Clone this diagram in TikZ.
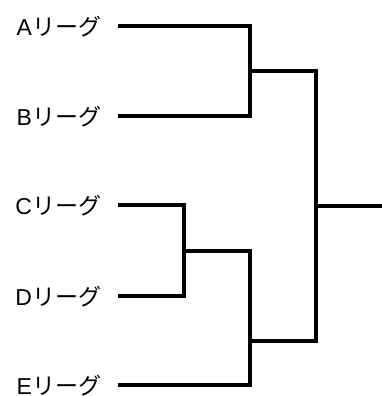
\documentclass[tikz,border=0pt]{standalone}
\usepackage{fontspec}
\setmainfont{Liberation Sans}
\newfontfamily\jp{Noto Sans CJK JP}
\newcommand{\leaguename}[1]{#1{\jp リーグ}}
\begin{document}
\begin{tikzpicture}[x=1pt,y=-1pt,
  league/.style={anchor=east,inner sep=0pt,outer xsep=17pt,text height=19pt,text depth=0pt,font=\fontsize{23}{27}\selectfont},
  wire/.style={line width=3.2pt,line join=miter}]
\useasboundingbox (0,0) rectangle (382,396);
\node[league] (A) at (118,26) {\leaguename{A}};
\node[league] (B) at (118,116) {\leaguename{B}};
\node[league] (C) at (118,205) {\leaguename{C}};
\node[league] (D) at (118,296) {\leaguename{D}};
\node[league] (E) at (118,385) {\leaguename{E}};
\coordinate (ab) at (250,71);
\coordinate (cd) at (184,251);
\coordinate (cde) at (250,341);
\coordinate (fin) at (316,206);
\coordinate (out) at (382,206);
\draw[wire] (A.east) -| (ab) |- (B.east);
\draw[wire] (C.east) -| (cd) |- (D.east);
\draw[wire] (cd) -| (cde) |- (E.east);
\draw[wire] (ab) -| (fin) |- (cde);
\draw[wire] (fin) -- (out);
\end{tikzpicture}
\end{document}
